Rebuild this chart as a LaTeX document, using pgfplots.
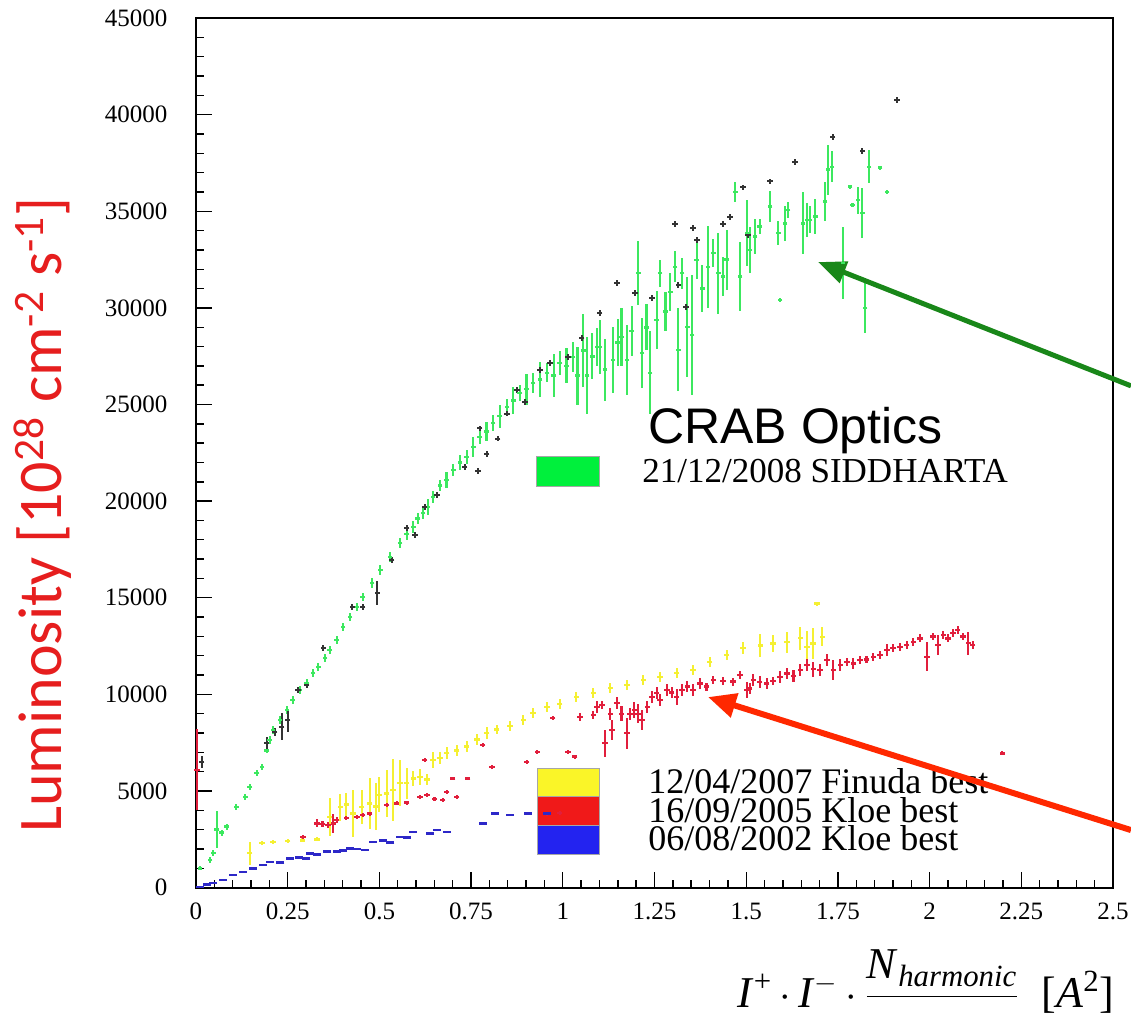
\documentclass[border=0pt]{standalone}
\usepackage{amsmath}
\usepackage{fontspec}
\usepackage{pgfplots}
\usepackage{pgfplotstable}
\pgfplotsset{compat=1.18}
\usetikzlibrary{arrows.meta}
\setmainfont{Liberation Serif}
\newfontfamily\carlito{Carlito}
\newfontfamily\arialf{Liberation Sans}

\definecolor{gData}{RGB}{60,232,95}
\definecolor{gBox}{RGB}{0,240,60}
\definecolor{yData}{RGB}{245,240,50}
\definecolor{yBox}{RGB}{250,245,40}
\definecolor{rData}{RGB}{225,30,60}
\definecolor{rBox}{RGB}{240,25,25}
\definecolor{bData}{RGB}{45,40,200}
\definecolor{bBox}{RGB}{35,35,240}
\definecolor{arrG}{RGB}{25,135,25}
\definecolor{arrR}{RGB}{255,40,0}
\definecolor{lumred}{RGB}{230,30,30}

\pgfplotstableread{
x y e
0.011 1000 100
0.038 1430 150
0.047 1800 150
0.057 3000 950
0.070 2840 150
0.084 3150 150
0.110 4170 150
0.134 4690 150
0.147 5210 150
0.166 5930 150
0.180 6250 150
0.193 7110 150
0.201 7640 200
0.210 8150 200
0.229 8670 200
0.248 9190 200
0.264 9710 200
0.283 10230 200
0.302 10590 200
0.319 11110 200
0.333 11420 200
0.352 11880 200
0.365 12300 200
0.384 12810 200
0.401 13490 200
0.420 14010 200
0.439 14530 200
0.455 15040 200
0.480 15760 250
0.502 16440 250
0.529 17110 250
0.556 17830 250
0.575 18300 300
0.592 18660 300
0.605 19100 300
0.619 19380 300
0.632 19700 400
0.646 20210 300
0.665 20800 300
0.683 21100 400
0.701 21610 300
0.720 22000 400
0.738 22290 350
0.756 22800 500
0.774 23320 350
0.792 23600 500
0.810 24040 400
0.828 24400 600
0.848 24880 400
0.865 25200 700
0.883 25600 400
0.901 25800 800
0.919 26120 500
0.938 26300 900
0.957 26640 500
0.975 26500 1100
0.992 27150 600
1.010 27000 900
1.028 27460 800
1.040 26500 1500
1.056 27800 1900
1.066 26500 2000
1.080 27500 1200
1.093 27980 1000
1.101 27980 1400
1.115 26800 1600
1.137 27300 1700
1.150 28200 1200
1.160 28500 1500
1.175 27300 1800
1.188 28800 1300
1.206 31800 1650
1.216 27660 1800
1.228 29000 1200
1.238 26640 2150
1.256 29370 1500
1.265 31800 700
1.280 29800 1000
1.293 30830 1000
1.306 32120 800
1.315 27830 2150
1.325 31800 800
1.339 29020 2600
1.352 28600 3100
1.365 32480 1000
1.380 31000 1200
1.396 32120 2100
1.410 32840 700
1.424 31800 2100
1.437 31620 1000
1.447 32500 1550
1.470 36000 500
1.483 31620 1800
1.502 33880 1700
1.510 33000 1200
1.524 33680 900
1.537 34200 400
1.565 35240 800
1.587 33880 600
1.592 30400 100
1.606 34380 900
1.614 35060 400
1.655 34380 1600
1.666 34550 900
1.674 34550 700
1.688 34720 900
1.715 35490 1000
1.723 37150 1300
1.734 37300 800
1.764 32330 1850
1.783 36270 100
1.790 35330 100
1.805 35580 700
1.816 34900 1300
1.824 30000 1300
1.835 37300 850
1.865 37250 100
1.884 36000 100
}\greendata

\pgfplotstableread{
x y e
0.016 6500 300
0.193 7470 300
0.215 8050 200
0.234 8320 700
0.250 8670 600
0.278 10230 150
0.302 10500 150
0.347 12400 150
0.426 14530 150
0.455 14530 150
0.494 15250 600
0.534 16960 150
0.575 18600 150
0.597 18240 150
0.624 19700 150
0.657 20300 150
0.733 21770 150
0.769 21560 150
0.774 23760 150
0.793 22460 150
0.823 23240 150
0.848 24530 150
0.875 25750 150
0.897 25130 150
0.938 26790 150
0.965 27150 150
1.014 27460 150
1.052 28440 150
1.101 29730 150
1.148 31290 150
1.197 30770 150
1.243 30510 150
1.306 34350 150
1.315 31190 150
1.336 30050 150
1.355 34140 150
1.366 33520 150
1.437 34350 150
1.456 34720 150
1.491 36230 150
1.505 33780 150
1.565 36540 150
1.633 37560 150
1.736 38850 150
1.816 38130 150
1.911 40760 150
}\blackdata

\pgfplotstableread{
x y e
0.147 1780 600
0.180 2300 100
0.210 2360 100
0.250 2400 100
0.290 2450 100
0.330 2500 100
0.365 3650 1000
0.393 4170 700
0.410 4300 600
0.428 3830 1200
0.452 4170 900
0.474 4360 1300
0.490 4200 1200
0.500 4800 900
0.520 4880 1200
0.537 5040 1600
0.556 5400 1200
0.575 5400 800
0.592 5650 400
0.611 5730 400
0.630 5600 300
0.646 6610 400
0.665 6700 300
0.684 6970 300
0.711 7100 300
0.738 7300 300
0.766 7660 300
0.793 8010 300
0.820 8180 250
0.856 8350 250
0.892 8670 250
0.919 9030 250
0.957 9340 250
0.992 9500 250
1.037 9870 250
1.083 10060 250
1.129 10330 250
1.175 10490 250
1.219 10750 250
1.265 10900 250
1.311 11110 250
1.355 11260 250
1.401 11680 250
1.447 12030 250
1.491 12400 300
1.538 12540 600
1.573 12630 450
1.611 12700 550
1.647 12910 600
1.666 12460 800
1.682 12630 800
1.693 14700 100
1.707 12980 500
}\yellowdata

\pgfplotstableread{
x y e
0.003 6100 2100
0.292 2620 100
0.330 3330 200
0.345 3300 150
0.360 3250 150
0.374 3330 500
0.384 3500 150
0.410 3590 100
0.439 3660 100
0.455 3750 100
0.474 3830 100
0.520 4270 100
0.547 4360 100
0.575 4400 100
0.611 4690 100
0.624 6610 100
0.630 4790 100
0.650 4600 100
0.673 4530 100
0.684 4950 100
0.700 5650 100
0.711 4690 100
0.741 5650 100
0.782 7380 100
0.807 6250 100
0.902 6500 100
0.930 7020 100
0.957 3830 100
0.973 8770 100
0.992 3850 100
1.014 7020 100
1.033 6780 100
1.047 8840 200
1.083 8930 200
1.093 9350 300
1.107 9450 200
1.115 7470 700
1.129 9000 300
1.134 8150 500
1.148 9540 300
1.160 9000 400
1.175 7990 800
1.183 9000 300
1.195 9200 400
1.205 9000 500
1.216 8670 500
1.230 9350 300
1.243 9860 300
1.256 10060 300
1.265 9700 300
1.284 10230 300
1.297 10100 300
1.311 9860 400
1.325 10230 300
1.339 10400 300
1.355 10230 300
1.374 10570 300
1.392 10400 200
1.410 10750 200
1.437 10700 200
1.464 10660 200
1.483 11010 200
1.502 10230 400
1.510 10300 300
1.519 10750 300
1.537 10650 300
1.556 10570 300
1.573 10700 200
1.592 10900 300
1.611 11080 300
1.629 10950 300
1.647 11260 300
1.666 11520 300
1.683 11300 400
1.701 11260 300
1.720 11780 300
1.737 11260 500
1.756 11520 300
1.775 11680 200
1.792 11600 300
1.810 11780 200
1.828 11800 200
1.846 11940 200
1.865 12030 200
1.884 12290 300
1.900 12390 200
1.919 12460 200
1.938 12550 200
1.955 12700 200
1.974 12900 200
1.993 11940 750
2.009 12990 200
2.023 12550 500
2.037 13070 200
2.050 12900 200
2.064 13180 200
2.077 13330 200
2.091 13000 200
2.105 12650 600
2.118 12550 200
2.198 6950 100
}\reddata

\pgfplotstableread{
x y e
0.011 30 50
0.030 150 50
0.047 240 50
0.074 400 50
0.100 650 50
0.128 810 50
0.155 1000 50
0.183 1170 50
0.202 1330 50
0.230 1300 50
0.256 1520 50
0.280 1550 50
0.300 1500 50
0.311 1780 50
0.330 1700 50
0.357 1860 50
0.384 1860 50
0.401 1940 50
0.420 2040 50
0.440 2000 50
0.460 1950 50
0.483 2360 50
0.510 2450 50
0.530 2350 50
0.556 2620 50
0.575 2580 50
0.592 2880 50
0.638 2800 50
0.657 2980 50
0.684 2880 50
0.782 3330 50
0.815 3830 50
0.856 3760 50
0.905 3830 50
0.957 3830 50
}\bluedata

\begin{document}
\begin{tikzpicture}
\begin{axis}[
  scale only axis,
  width=458.5pt, height=434.8pt,
  xmin=0, xmax=2.5, ymin=0, ymax=45000,
  clip=false,
  axis line style={line width=1pt},
  tick align=inside, tick pos=left,
  major tick length=8pt, minor tick length=4pt,
  every tick/.style={line width=0.7pt, black},
  minor tick num=4,
  xtick={0,0.25,0.5,0.75,1,1.25,1.5,1.75,2,2.25,2.5},
  xticklabels={0,0.25,0.5,0.75,1,1.25,1.5,1.75,2,2.25,2.5},
  ytick={0,5000,10000,15000,20000,25000,30000,35000,40000,45000},
  yticklabels={0,5000,10000,15000,20000,25000,30000,35000,40000,45000},
  xticklabel style={font=\fontsize{12.5}{14}\selectfont, yshift=-4.3pt},
  yticklabel style={font=\fontsize{12.5}{14}\selectfont, xshift=-10.8pt},
  scaled ticks=false,
]
% legend boxes
\fill[gBox, draw=gray!70, line width=0.4pt] (axis cs:0.927,20780) rectangle (axis cs:1.099,22290);
\fill[yBox, draw=gray!70, line width=0.4pt] (axis cs:0.930,4740) rectangle (axis cs:1.101,6190);
\fill[rBox, draw=gray!70, line width=0.4pt] (axis cs:0.930,3240) rectangle (axis cs:1.101,4740);
\fill[bBox, draw=gray!70, line width=0.4pt] (axis cs:0.930,1740) rectangle (axis cs:1.101,3240);

\addplot[only marks, color=gData, mark=-, mark size=1.2pt, mark options={line width=1.3pt},
  error bars/.cd, y dir=both, y explicit, error mark=none,
  error bar style={line width=1.1pt, gData}]
  table[x=x, y=y, y error=e] {\greendata};
\addplot[only marks, color=black!80, mark=-, mark size=1.3pt, mark options={line width=1pt},
  error bars/.cd, y dir=both, y explicit, error mark=none,
  error bar style={line width=0.9pt, black!80}]
  table[x=x, y=y, y error=e] {\blackdata};
\addplot[only marks, color=yData, mark=-, mark size=1.3pt, mark options={line width=1.2pt},
  error bars/.cd, y dir=both, y explicit, error mark=none,
  error bar style={line width=1.1pt, yData}]
  table[x=x, y=y, y error=e] {\yellowdata};
\addplot[only marks, color=rData, mark=-, mark size=1.3pt, mark options={line width=1.2pt},
  error bars/.cd, y dir=both, y explicit, error mark=none,
  error bar style={line width=1.1pt, rData}]
  table[x=x, y=y, y error=e] {\reddata};
\addplot[only marks, color=bData, mark=-, mark size=2pt, mark options={line width=1.4pt},
  error bars/.cd, y dir=both, y explicit, error mark=none,
  error bar style={line width=1pt, bData}]
  table[x=x, y=y, y error=e] {\bluedata};

% legend texts
\node[anchor=base west, font=\arialf\fontsize{25}{28}\selectfont, inner sep=0pt] at (axis cs:1.232,22960) {CRAB Optics};
\node[anchor=base west, font=\fontsize{17.5}{20}\selectfont, inner sep=0pt] at (axis cs:1.216,20990) {21/12/2008 SIDDHARTA};
\node[anchor=base west, font=\fontsize{18}{20}\selectfont, inner sep=0pt] at (axis cs:1.232,4896) {12/04/2007 Finuda best};
\node[anchor=base west, font=\fontsize{18}{20}\selectfont, inner sep=0pt] at (axis cs:1.232,3395) {16/09/2005 Kloe best};
\node[anchor=base west, font=\fontsize{18}{20}\selectfont, inner sep=0pt] at (axis cs:1.232,1946) {06/08/2002 Kloe best};

% arrows
\draw[arrG, line width=2.5pt, -{Triangle[length=14pt,width=11pt]}] (rel axis cs:1.0196,0.5770) -- (rel axis cs:0.6783,0.7194);
\draw[arrR, line width=3pt, -{Triangle[length=14pt,width=12pt]}] (rel axis cs:1.0196,0.0662) -- (rel axis cs:0.5583,0.2192);

% axis labels
\node[rotate=90, anchor=base, text=lumred, font=\carlito\fontsize{31}{36}\selectfont, inner sep=0pt] at (rel axis cs:-0.1461,0.4285) {Luminosity [10\textsuperscript{28} cm\textsuperscript{-2} s\textsuperscript{-1}]};
\node[anchor=base east, font=\fontsize{22}{26}\selectfont, inner sep=0pt] at (rel axis cs:1.002,-0.1373) {\textit{I}\textsuperscript{+}\,$\cdot$\,\textit{I}\textsuperscript{$-$}\,$\cdot$\,$\genfrac{}{}{0.6pt}{0}{\text{\textit{N}}_{\text{\textit{harmonic}}}}{}$\ \ [\textit{A}\textsuperscript{2}]};

\coordinate (bbsw) at (rel axis cs:-0.2137,-0.1454);
\coordinate (bbne) at (rel axis cs:1.0196,1.0207);
\end{axis}
\pgfresetboundingbox
\useasboundingbox (bbsw) rectangle (bbne);
\end{tikzpicture}
\end{document}
